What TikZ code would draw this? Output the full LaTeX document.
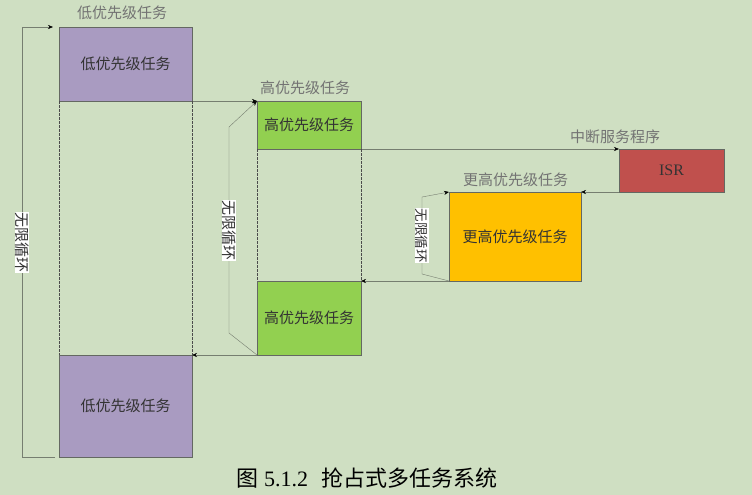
\documentclass[tikz,border=0pt]{standalone}
\usepackage{fontspec}
\setmainfont{Liberation Serif}
\newfontfamily\cjk{Noto Sans CJK SC}
\usetikzlibrary{arrows.meta,calc,positioning}
\definecolor{bgcol}{RGB}{207,223,194}
\definecolor{lowcol}{RGB}{169,155,193}
\definecolor{highcol}{RGB}{146,208,80}
\definecolor{isrcol}{RGB}{192,80,77}
\definecolor{highercol}{RGB}{255,192,0}
\definecolor{linecol}{RGB}{118,126,112}
\definecolor{boxline}{RGB}{100,104,98}

\begin{document}
\begin{tikzpicture}[x=1pt,y=-1pt,>={Stealth[length=5pt,width=4pt,black]},
    task/.style={draw=boxline,line width=0.8pt,inner sep=0pt,outer sep=0pt,text=black!80,font=\cjk\fontsize{15}{17}\selectfont},
    toplbl/.style={text=black!55,inner sep=0pt,font=\cjk\fontsize{15}{17}\selectfont},
    loop/.style={draw=linecol,->},
    looplbl/.style={fill=white,rotate=-90,inner sep=0.5pt,text=black!80,font=\cjk\fontsize{15}{17}\selectfont},
    guide/.style={draw=black!70,line width=0.6pt,dash pattern=on 2.5pt off 1.5pt}]
    \fill[bgcol] (0,0) rectangle (752,495);
    % tasks
    \node[task,fill=lowcol,minimum width=133,minimum height=74] (lowA) at (125.5,64) {低优先级任务};
    \node[task,fill=lowcol,minimum width=133,minimum height=102] (lowB) at (125.5,406) {低优先级任务};
    \node[task,fill=highcol,minimum width=104,minimum height=48] (highA) at (309,125) {高优先级任务};
    \node[task,fill=highcol,minimum width=104,minimum height=74] (highB) at (309,318) {高优先级任务};
    \node[task,fill=isrcol,minimum width=105,minimum height=43,font=\fontsize{16}{18}\selectfont] (isr) at (671.5,170.5) {ISR};
    \node[task,fill=highercol,minimum width=132,minimum height=89] (higher) at (515,236.5) {更高优先级任务};
    % names above
    \node[toplbl] (lowAtop) at ($(lowA.north)+(-3.5,-14)$) {低优先级任务};
    \node[toplbl] (highAtop) at ($(highA.north)+(-4,-13.5)$) {高优先级任务};
    \node[toplbl] (isrtop) at ($(isr.north)+(-56.5,-12.5)$) {中断服务程序};
    \node[toplbl] (highertop) at ($(higher.north)+(0.5,-12)$) {更高优先级任务};
    % switches
    \foreach \a/\b in {lowA.south east/highA.north west,highA.south east/isr.north west,isr.south west/higher.north east,higher.south west/highB.north east,highB.south west/lowB.north east}
      \draw[linecol,->] (\a) -- (\b);
    \foreach \a/\b in {lowA/lowB,highA/highB}{
      \draw[guide] (\a.south west) -- (\b.north west);
      \draw[guide] (\a.south east) -- (\b.north east);
    }
    % endless loops
    \draw[loop] ([xshift=-4pt]lowB.south west) -- ++(-33,0) coordinate (l1)
      -- node[looplbl] (lowLoop) {无限循环} (l1 |- lowA.north) -- ([xshift=-6pt]lowA.north west);
    \draw[loop] (highB.south west) -- ++(-28,-22) coordinate (m1)
      -- node[looplbl] (highLoop) {无限循环} ($(m1 |- highA.north)+(0,26)$) -- (highA.north west);
    \draw[loop] (higher.south west) -- ++(-27,-7) coordinate (o1)
      -- node[looplbl,font=\cjk\fontsize{13.5}{15}\selectfont] (higherLoop) {无限循环} ($(o1 |- higher.north)+(0,5)$) -- (higher.north west);
    \node[font=\fontsize{22}{25}\selectfont] (caption) at (367,478) {{\cjk 图} 5.1.2\hspace{0.6em}{\cjk 抢占式多任务系统}};
  \end{tikzpicture}
\end{document}
